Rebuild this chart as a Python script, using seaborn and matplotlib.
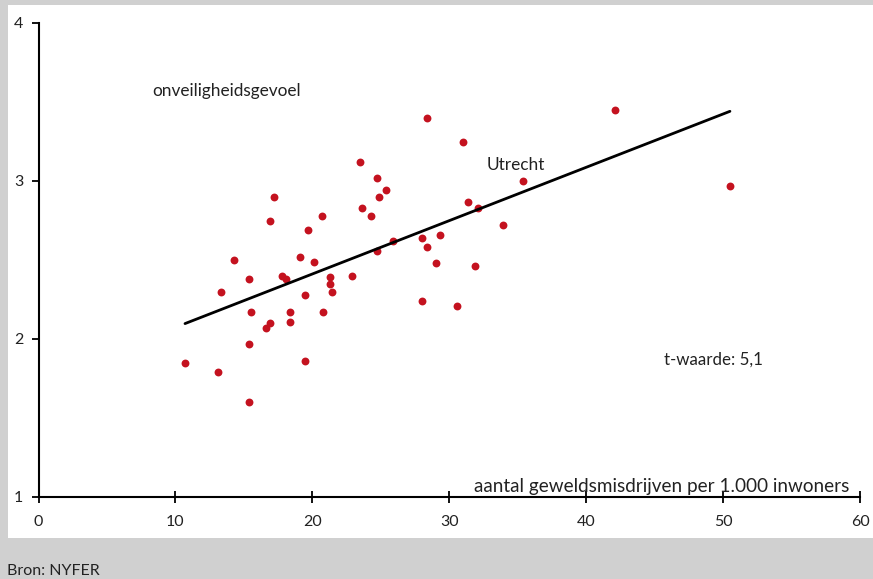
import numpy as np
import pandas as pd
import seaborn as sns
import matplotlib.pyplot as plt
from matplotlib.patches import Rectangle

# geweldsmisdrijven per 1.000 inwoners (x) tegen onveiligheidsgevoel (y)
geweld = [10.7, 13.1, 13.3, 14.3, 15.4, 15.4, 15.5, 15.4, 16.6, 16.9,
          16.9, 17.2, 17.8, 18.1, 18.4, 18.4, 19.1, 19.5, 19.5, 19.7,
          20.1, 20.7, 20.8, 21.3, 21.3, 21.4, 22.9, 23.5, 23.6, 24.3,
          24.7, 24.9, 25.4, 24.7, 25.9, 28.0, 28.0, 28.4, 28.4, 29.0,
          29.3, 30.6, 31.0, 31.4, 31.9, 32.1, 33.9, 35.4, 42.1, 50.5]
onveilig = [1.85, 1.79, 2.30, 2.50, 1.60, 1.97, 2.17, 2.38, 2.07, 2.10,
            2.75, 2.90, 2.40, 2.38, 2.11, 2.17, 2.52, 2.28, 1.86, 2.69,
            2.49, 2.78, 2.17, 2.39, 2.35, 2.30, 2.40, 3.12, 2.83, 2.78,
            3.02, 2.90, 2.94, 2.56, 2.62, 2.64, 2.24, 2.58, 3.40, 2.48,
            2.66, 2.21, 3.25, 2.87, 2.46, 2.83, 2.72, 3.00, 3.45, 2.97]

df = pd.DataFrame({'geweld': geweld, 'onveilig': onveilig})

sns.set_style('ticks')
plt.rcParams['font.family'] = ['Lato', 'DejaVu Sans']

fig = plt.figure(figsize=(8.73, 5.79), dpi=100, facecolor='#d0d0d0')
fig.patches.append(Rectangle((8 / 873, 41 / 579), 865 / 873, 533 / 579,
                             transform=fig.transFigure, facecolor='white',
                             edgecolor='none', zorder=-1))
ax = fig.add_axes([38.5 / 873, 82 / 579, 821.5 / 873, 474 / 579])
ax.set_zorder(2)
ax.set_facecolor('none')

sns.regplot(data=df, x='geweld', y='onveilig', ax=ax, ci=None,
            scatter_kws={'s': 32, 'color': '#c4121f', 'linewidths': 0, 'alpha': 1},
            line_kws={'color': 'black', 'lw': 2})

ax.set_xlim(0, 60)
ax.set_ylim(1, 4)
ax.set_xticks(range(0, 61, 10))
ax.set_yticks([1, 2, 3, 4])
ax.set_xlabel('')
ax.set_ylabel('')
for s in ['top', 'right']:
    ax.spines[s].set_visible(False)
for s in ['left', 'bottom']:
    ax.spines[s].set_linewidth(1.5)
    ax.spines[s].set_color('black')
ax.tick_params(axis='x', direction='inout', length=8, width=1.3, pad=9,
               labelsize=11.5, colors='black')
ax.tick_params(axis='y', direction='out', length=5, width=1.3, pad=6,
               labelsize=11.5, colors='black')
for lbl in ax.get_xticklabels() + ax.get_yticklabels():
    lbl.set_color('#222222')

ax.text(8.3, 3.57, 'onveiligheidsgevoel', fontsize=12.4, va='center', color='#222222')
ax.text(32.7, 3.10, 'Utrecht', fontsize=12.4, va='center', color='#222222')
ax.text(45.7, 1.87, 't-waarde: 5,1', fontsize=12.2, va='center', color='#222222')
ax.text(59.2, 1.065, 'aantal geweldsmisdrijven per 1.000 inwoners', fontsize=13.6,
        ha='right', va='center', color='#222222')

fig.text(7 / 873, 8 / 579, 'Bron: NYFER', fontsize=11.5, va='center', color='#222222')

fig.savefig('out.png', dpi=100, facecolor=fig.get_facecolor())
